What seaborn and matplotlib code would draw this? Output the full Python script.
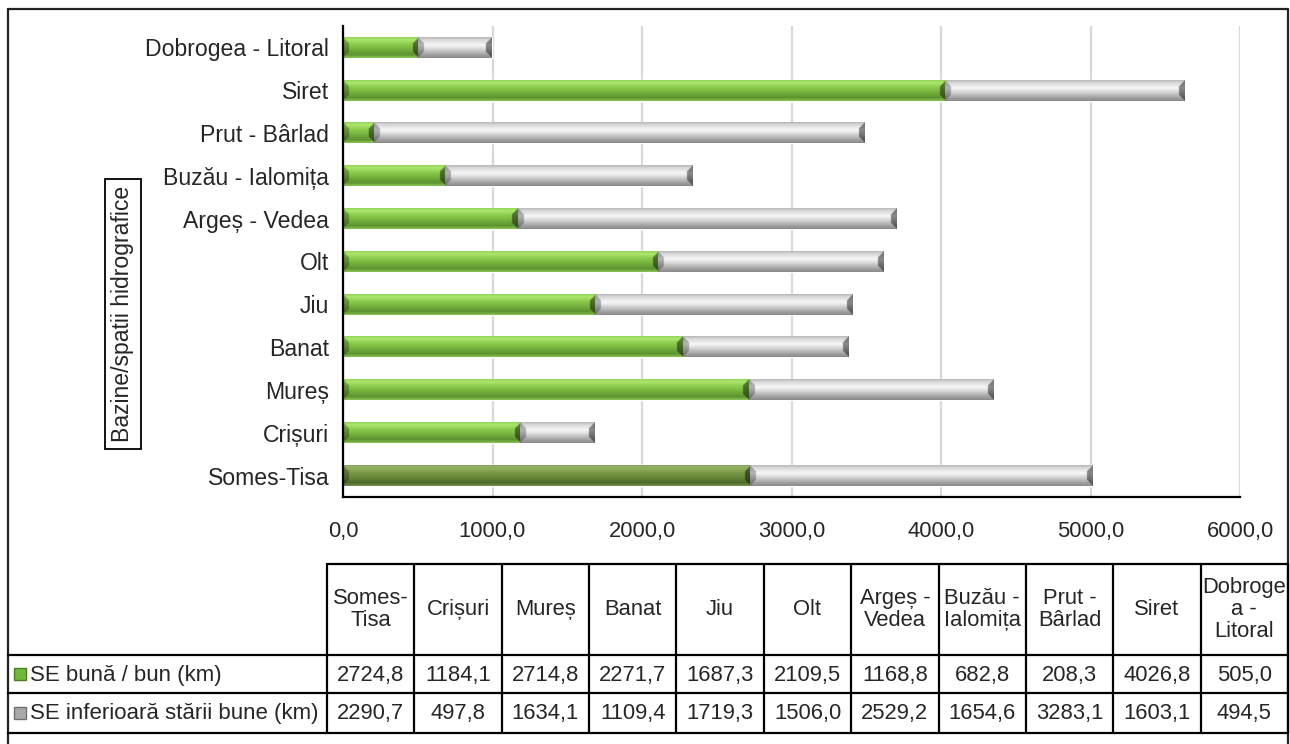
import numpy as np
import pandas as pd
import matplotlib
matplotlib.use("Agg")
import matplotlib.pyplot as plt
import seaborn as sns
from matplotlib.colors import to_rgb
from matplotlib.patches import Rectangle

# ---- data -------------------------------------------------------------
categories = ["Somes-Tisa", "Crișuri", "Mureș", "Banat", "Jiu", "Olt",
              "Argeș - Vedea", "Buzău - Ialomița", "Prut - Bârlad", "Siret",
              "Dobrogea - Litoral"]
header_labels = ["Somes-\nTisa", "Crișuri", "Mureș", "Banat", "Jiu", "Olt",
                 "Argeș -\nVedea", "Buzău -\nIalomița", "Prut -\nBârlad",
                 "Siret", "Dobroge\na -\nLitoral"]
good_km = [2724.8, 1184.1, 2714.8, 2271.7, 1687.3, 2109.5, 1168.8, 682.8,
           208.3, 4026.8, 505.0]
below_km = [2290.7, 497.8, 1634.1, 1109.4, 1719.3, 1506.0, 2529.2, 1654.6,
            3283.1, 1603.1, 494.5]
series_names = ["SE bună / bun (km)", "SE inferioară stării bune (km)"]
x_ticks = [0, 1000, 2000, 3000, 4000, 5000, 6000]
axis_title = "Bazine/spatii hidrografice"


def fmt(v):
    return f"{v:.1f}".replace(".", ",")


df = pd.DataFrame({"bazin": categories, "good": good_km, "below": below_km})
df["total"] = df["good"] + df["below"]
order = categories[::-1]

# ---- style ------------------------------------------------------------
sns.set_style("white")
plt.rcParams["font.family"] = ["Liberation Sans", "DejaVu Sans"]
FS = 16.6
TFS = 15.8
RFS = 16

W, H = 1290, 744
fig = plt.figure(figsize=(W / 100, H / 100), dpi=100)

# overlay in pixel coordinates for frame, table and boxed axis title
ov = fig.add_axes([0, 0, 1, 1], zorder=0)
ov.set_xlim(0, W)
ov.set_ylim(H, 0)
ov.axis("off")

ax_l, ax_r, ax_t, ax_b = 343, 1240, 26, 497
ax = fig.add_axes([ax_l / W, 1 - ax_b / H, (ax_r - ax_l) / W, (ax_b - ax_t) / H],
                  zorder=1)

GREEN = "#7cbf42"
GRAY = "#c4c4c4"
BAR_W = 0.48

sns.barplot(data=df, x="total", y="bazin", order=order, color=GRAY,
            width=BAR_W, saturation=1, errorbar=None, orient="h", ax=ax)
sns.barplot(data=df, x="good", y="bazin", order=order, color=GREEN,
            width=BAR_W, saturation=1, errorbar=None, orient="h", ax=ax)

ax.set_xlim(0, 6000)
ylim = ax.get_ylim()

green_stops = ([0, 0.12, 0.35, 0.62, 0.85, 1.0],
               ["#94d45a", "#ade66e", "#8acb4b", "#72ad3c", "#5e922f", "#88c454"])
dark_green_stops = ([0, 0.12, 0.35, 0.62, 0.85, 1.0],
                    ["#8aa660", "#96b265", "#7b9a47", "#66863a", "#4d6829", "#72904a"])
gray_stops = ([0, 0.12, 0.38, 0.58, 0.82, 1.0],
              ["#b8b8b8", "#d8d8d8", "#f8f8f8", "#d6d6d6", "#a6a6a6", "#8a8a8a"])


def bevel_image(w_px, h_px, stops, bevel=6, left_dark=0.72, right_dark=0.55):
    s = 2
    cols = max(int(w_px * s), 2)
    rows = max(int(h_px * s), 2)
    t = np.linspace(0, 1, rows)
    cs = np.array([to_rgb(c) for c in stops[1]])
    prof = np.stack([np.interp(t, stops[0], cs[:, k]) for k in range(3)], axis=1)
    img = np.repeat(prof[:, None, :], cols, axis=1).copy()
    ii, jj = np.mgrid[0:rows, 0:cols]
    dv = np.minimum(ii, rows - 1 - ii) / s
    dl = jj / s
    dr = (cols - 1 - jj) / s
    b = min(bevel, w_px / 2.0)
    lm = (dl < b) & (dl < dv)
    rm = (dr < b) & (dr < dv) & ~lm
    img[lm] *= left_dark
    img[rm] *= right_dark
    return np.clip(img, 0, 1)


px_per_x = (ax_r - ax_l) / 6000.0
px_per_y = (ax_b - ax_t) / 11.0
n = len(order)
total_patches = ax.patches[:n]
good_patches = ax.patches[n:2 * n]
for name, tp, gp in zip(order, total_patches, good_patches):
    y0, h = gp.get_y(), gp.get_height()
    g1 = gp.get_x() + gp.get_width()
    t1 = tp.get_x() + tp.get_width()
    stops = dark_green_stops if name == "Somes-Tisa" else green_stops
    img = bevel_image(g1 * px_per_x, h * px_per_y, stops)
    ax.imshow(img, extent=(0, g1, y0 + h, y0), aspect="auto",
              interpolation="bilinear", zorder=3)
    img = bevel_image((t1 - g1) * px_per_x, h * px_per_y, gray_stops)
    ax.imshow(img, extent=(g1, t1, y0 + h, y0), aspect="auto",
              interpolation="bilinear", zorder=3)

ax.set_xlim(0, 6000)
ax.set_ylim(*ylim)
ax.set_aspect("auto")

ax.set_xticks(x_ticks)
ax.set_xticklabels([fmt(v) for v in x_ticks], fontsize=TFS)
ax.tick_params(axis="x", length=0, pad=17)
ax.tick_params(axis="y", length=0, pad=10, labelsize=FS)
ax.set_xlabel("")
ax.set_ylabel("")
ax.grid(axis="x", color="#d9d9d9", lw=1.6)
ax.set_axisbelow(True)
for side in ("top", "right"):
    ax.spines[side].set_visible(False)
for side in ("left", "bottom"):
    ax.spines[side].set_color("black")
    ax.spines[side].set_linewidth(1.6)
    ax.spines[side].set_zorder(5)

# boxed axis title
ov.text(123, 314, axis_title, rotation=90, ha="center", va="center",
        fontsize=FS, bbox=dict(boxstyle="square,pad=0.3", fc="white",
                               ec="black", lw=1.3))

# outer frame
LW = 1.6
ov.plot([8, 1288], [9, 9], color="#222222", lw=LW)
ov.plot([8, 8], [9, H], color="#222222", lw=LW)
ov.plot([1288, 1288], [9, H], color="#222222", lw=LW)

# data table
col_x = np.linspace(327, 1288, len(categories) + 1)
t_top, h_bot, r1_bot, r2_bot = 564, 655, 693, 733
ov.plot([col_x[0], col_x[-1]], [t_top, t_top], color="black", lw=LW)
for yy in (h_bot, r1_bot, r2_bot):
    ov.plot([8, 1288], [yy, yy], color="black", lw=LW)
for xx in col_x:
    ov.plot([xx, xx], [t_top, r2_bot], color="black", lw=LW)

row_c = [(h_bot + r1_bot) / 2, (r1_bot + r2_bot) / 2]
for i, lab in enumerate(header_labels):
    cx = (col_x[i] + col_x[i + 1]) / 2
    ov.text(cx, (t_top + h_bot) / 2, lab, ha="center", va="center",
            fontsize=TFS, linespacing=1.05)
    ov.text(cx, row_c[0] + 1, fmt(good_km[i]), ha="center", va="center",
            fontsize=TFS)
    ov.text(cx, row_c[1] + 1, fmt(below_km[i]), ha="center", va="center",
            fontsize=TFS)

key_colors = [("#72b83c", "#4a7d22"), ("#a8a8a8", "#707070")]
for (fc, ec), yc, lab in zip(key_colors, row_c, series_names):
    ov.add_patch(Rectangle((14, yc - 6), 12, 12, fc=fc, ec=ec, lw=1))
    ov.text(30, yc + 1, lab, ha="left", va="center", fontsize=RFS)

fig.savefig("out.png", dpi=100, facecolor="white")
